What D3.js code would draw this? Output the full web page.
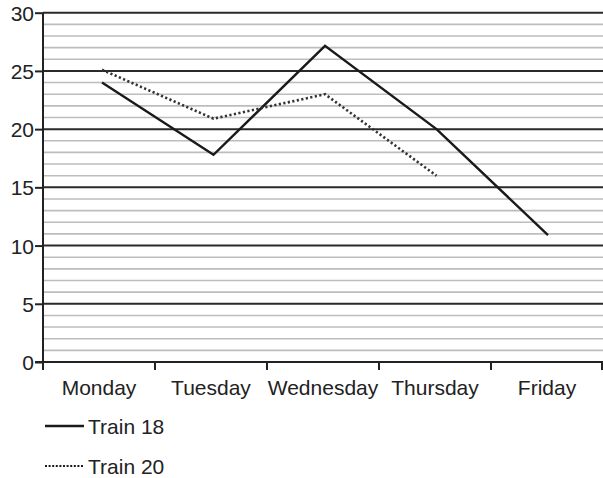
<!DOCTYPE html>
<html><head><meta charset="utf-8">
<script src="https://cdn.jsdelivr.net/npm/d3@7"></script>
<style>body{margin:0;background:#fff;}svg{display:block;}text{font-family:"Liberation Sans",Arial,sans-serif;fill:#222;}</style>
</head><body>
<script>
const days = ["Monday","Tuesday","Wednesday","Thursday","Friday"];
const train18 = [24, 17.8, 27.15, 20, 10.9];
const train20 = [25.1, 20.9, 23, 16];
const yTicks = [0,5,10,15,20,25,30];
const seriesNames = ["Train 18","Train 20"];

const W=603,H=478;
const svg=d3.select("body").append("svg").attr("width",W).attr("height",H);
const y=d3.scaleLinear().domain([0,30]).range([362,12.7]);
const band=d3.scaleBand().domain(days).range([43,603]);
const x=d3.scalePoint().domain(days).range([102,548]);

// minor grid
const minor=d3.range(0,31).filter(v=>v%5!==0);
svg.append("g").selectAll("line").data(minor).join("line")
  .attr("x1",43).attr("x2",W).attr("y1",d=>y(d)).attr("y2",d=>y(d))
  .attr("stroke","#bdbdbd").attr("stroke-width",1.6);
// major grid
svg.append("g").selectAll("line").data(yTicks.filter(v=>v>0)).join("line")
  .attr("x1",43).attr("x2",W).attr("y1",d=>y(d)).attr("y2",d=>y(d))
  .attr("stroke","#2a2a2a").attr("stroke-width",2);

// y axis
const ya=svg.append("g").attr("transform","translate(43,0)")
  .call(d3.axisLeft(y).tickValues(yTicks).tickSize(8).tickPadding(1).tickFormat(d3.format("d")));
ya.select(".domain").attr("stroke","#222").attr("stroke-width",2).attr("d","M0,"+y(30)+"V"+(y(0)+8));
ya.selectAll(".tick line").attr("stroke","#222").attr("stroke-width",2);
ya.selectAll(".tick text").attr("font-size",21).attr("fill","#2a2a2a").attr("font-family","Liberation Sans, Arial, sans-serif").attr("dy","0.36em");

// x axis
const bounds=days.map(d=>band(d)).concat([band.range()[1]-1]);
const xa=svg.append("g").attr("transform","translate(0,"+y(0)+")");
xa.append("line").attr("x1",35).attr("x2",W).attr("y1",0).attr("y2",0).attr("stroke","#222").attr("stroke-width",2);
xa.selectAll("line.t").data(bounds).join("line").attr("class","t")
  .attr("x1",d=>d).attr("x2",d=>d).attr("y1",0).attr("y2",8).attr("stroke","#222").attr("stroke-width",2);
xa.selectAll("text").data(days).join("text")
  .attr("x",d=>band(d)+band.bandwidth()/2).attr("y",33)
  .attr("text-anchor","middle").attr("font-size",21).attr("fill","#2a2a2a").text(d=>d);

const line=d3.line().x((d,i)=>x(days[i])).y(d=>y(d));
svg.append("path").datum(train18).attr("d",line).attr("fill","none")
  .attr("stroke","#1a1a1a").attr("stroke-width",2.4).attr("stroke-linejoin","miter");
svg.append("path").datum(train20).attr("d",line).attr("fill","none")
  .attr("stroke","#333").attr("stroke-width",2.6).attr("stroke-dasharray","2.2,2.4");

// legend
const lg=svg.append("g");
const ly=[426,466];
seriesNames.forEach((n,i)=>{
  lg.append("line").attr("x1",45).attr("x2",84).attr("y1",ly[i]).attr("y2",ly[i])
    .attr("stroke","#1a1a1a").attr("stroke-width",i===0?2.4:2)
    .attr("stroke-dasharray",i===0?null:"2,1.6");
  lg.append("text").attr("x",88).attr("y",ly[i]+7.5).attr("font-size",21).attr("fill","#2a2a2a").text(n);
});
</script>
</body></html>
